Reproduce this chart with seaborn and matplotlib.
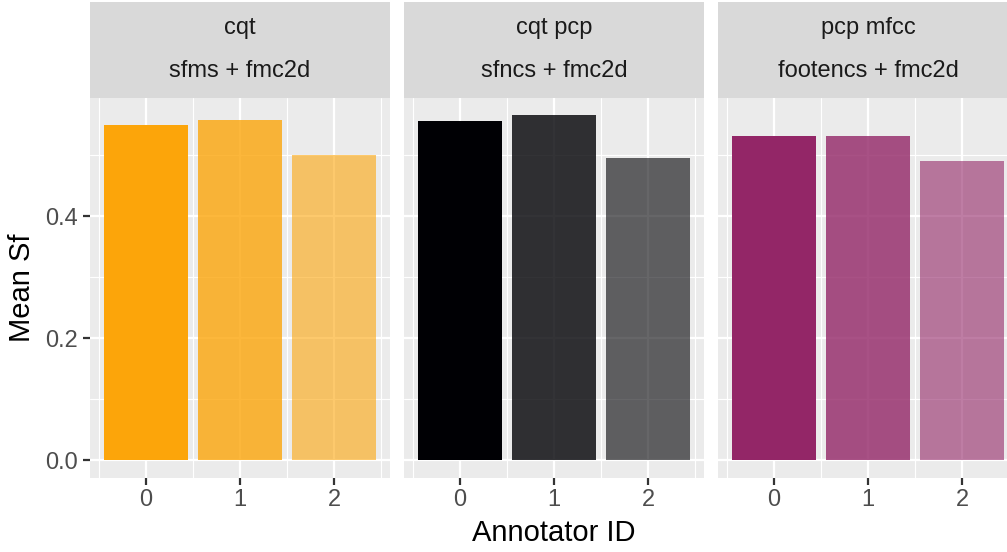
import numpy as np
import pandas as pd
import matplotlib
matplotlib.use("Agg")
import matplotlib.pyplot as plt
import seaborn as sns

# ---- data ----
features = ["cqt", "cqt pcp", "pcp mfcc"]
methods = ["sfms + fmc2d", "sfncs + fmc2d", "footencs + fmc2d"]
annotators = [0, 1, 2]
mean_sf_cqt = [0.550, 0.557, 0.500]
mean_sf_cqt_pcp = [0.555, 0.566, 0.496]
mean_sf_pcp_mfcc = [0.531, 0.532, 0.490]
panel_colors = ["#FCA50A", "#000004", "#932667"]
annotator_alpha = [1.0, 0.8, 0.6]
y_major = [0.0, 0.2, 0.4]
y_major_labels = ["0.0", "0.2", "0.4"]
y_minor = [0.1, 0.3, 0.5]
x_major = [0, 1, 2]
x_minor = [-0.5, 0.5, 1.5, 2.5]

values = [mean_sf_cqt, mean_sf_cqt_pcp, mean_sf_pcp_mfcc]

sns.set_theme(style="white")
plt.rcParams["font.family"] = ["Liberation Sans", "DejaVu Sans"]

W, H = 1007, 552
fig = plt.figure(figsize=(W / 100, H / 100), dpi=100)

def px_axes(left, top, right, bottom):
    return fig.add_axes([left / W, 1 - bottom / H, (right - left) / W, (bottom - top) / H])

ymax_all = max(max(v) for v in values)
ylo, yhi = -0.05 * ymax_all, ymax_all * 1.05
xlo, xhi = -0.595, 2.595

panel_top, panel_bot = 97.5, 477.7
strip_top = 2.0

for i, (feat, meth, vals, col) in enumerate(zip(features, methods, values, panel_colors)):
    left = 90 + 314 * i
    right = left + 300
    ax = px_axes(left, panel_top, right, panel_bot)
    ax.set_facecolor("#EBEBEB")
    df = pd.DataFrame({"annotator": annotators, "mean_sf": vals})
    sns.barplot(data=df, x="annotator", y="mean_sf", native_scale=True, width=0.9,
                color=col, saturation=1, errorbar=None, ax=ax, zorder=3, linewidth=0)
    bars = sorted(ax.patches, key=lambda p: p.get_x())
    for p, a in zip(bars, annotator_alpha):
        p.set_alpha(a)
        p.set_facecolor(col)
        p.set_alpha(a)
        p.set_edgecolor("none")
    ax.set_xlim(xlo, xhi)
    ax.set_ylim(ylo, yhi)
    for s in ax.spines.values():
        s.set_visible(False)
    # grid
    for y in y_minor:
        ax.axhline(y, color="white", lw=0.8, zorder=1)
    for x in x_minor:
        ax.axvline(x, color="white", lw=0.8, zorder=1)
    for y in y_major:
        ax.axhline(y, color="white", lw=1.6, zorder=1.5)
    for x in x_major:
        ax.axvline(x, color="white", lw=1.6, zorder=1.5)
    ax.set_xticks(x_major)
    ax.set_xticklabels([str(a) for a in annotators])
    ax.set_yticks(y_major)
    if i == 0:
        ax.set_yticklabels(y_major_labels)
        ax.tick_params(axis="y", length=5, width=1.6, color="#333333", labelsize=17,
                       labelcolor="#4D4D4D", pad=3.5, left=True)
    else:
        ax.set_yticklabels([])
        ax.tick_params(axis="y", length=0, left=False)
    ax.tick_params(axis="x", length=5, width=1.6, color="#333333", labelsize=17,
                   labelcolor="#4D4D4D", pad=3, bottom=True)
    ax.set_xlabel("")
    ax.set_ylabel("")
    # strip
    sax = px_axes(left, strip_top, right, panel_top)
    sax.set_facecolor("#D9D9D9")
    sax.set_xticks([]); sax.set_yticks([])
    for s in sax.spines.values():
        s.set_visible(False)
    sax.text(0.5, 1 - (28 - strip_top) / (panel_top - strip_top), feat, ha="center", va="center",
             fontsize=17, color="#1A1A1A", transform=sax.transAxes)
    sax.text(0.5, 1 - (71 - strip_top) / (panel_top - strip_top), meth, ha="center", va="center",
             fontsize=17, color="#1A1A1A", transform=sax.transAxes)

fig.text(554 / W, 1 - 533 / H, "Annotator ID", ha="center", va="center", fontsize=21, color="black")
fig.text(22 / W, 1 - 288 / H, "Mean Sf", ha="center", va="center", rotation=90, fontsize=21, color="black")

fig.savefig("out.png", dpi=100, facecolor="white")
